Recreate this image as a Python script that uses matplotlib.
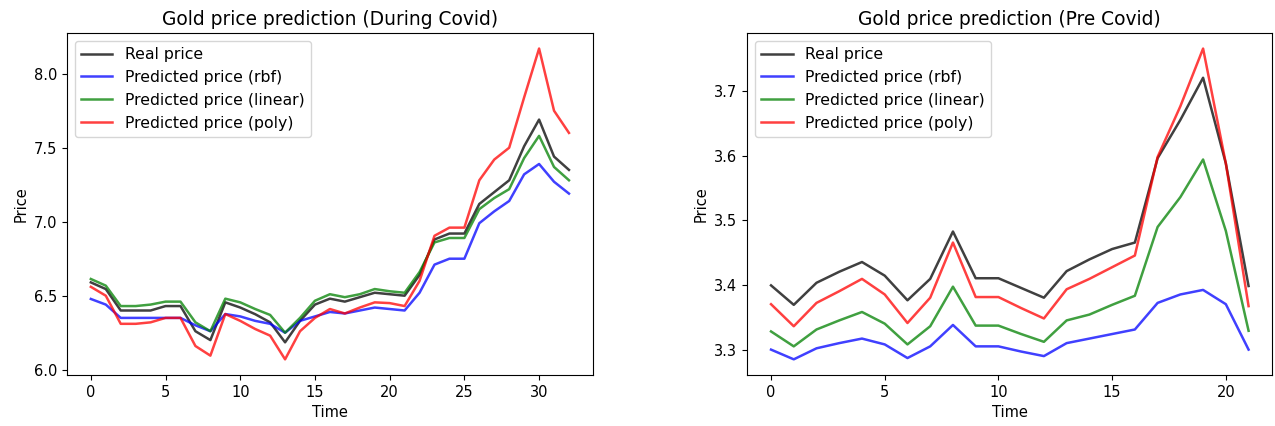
import numpy as np
import matplotlib
matplotlib.use('Agg')
import matplotlib.pyplot as plt

# During Covid (33 time steps)
covid_real = [6.59, 6.545, 6.40, 6.40, 6.40, 6.43, 6.43, 6.26, 6.20, 6.455, 6.42,
              6.375, 6.32, 6.185, 6.33, 6.44, 6.48, 6.46, 6.49, 6.52, 6.51, 6.50,
              6.64, 6.88, 6.92, 6.92, 7.12, 7.20, 7.28, 7.51, 7.69, 7.44, 7.35]
covid_rbf = [6.478, 6.44, 6.35, 6.35, 6.35, 6.35, 6.35, 6.30, 6.26, 6.376, 6.36,
             6.33, 6.31, 6.25, 6.33, 6.36, 6.39, 6.38, 6.40, 6.42, 6.41, 6.40,
             6.52, 6.71, 6.75, 6.75, 6.99, 7.07, 7.14, 7.32, 7.39, 7.27, 7.19]
covid_linear = [6.613, 6.568, 6.43, 6.43, 6.44, 6.46, 6.46, 6.32, 6.26, 6.48, 6.455,
                6.41, 6.37, 6.25, 6.35, 6.466, 6.51, 6.49, 6.51, 6.545, 6.53, 6.52,
                6.66, 6.86, 6.89, 6.89, 7.085, 7.16, 7.22, 7.43, 7.58, 7.37, 7.28]
covid_poly = [6.56, 6.50, 6.31, 6.31, 6.32, 6.35, 6.35, 6.16, 6.095, 6.376, 6.33,
              6.275, 6.23, 6.07, 6.26, 6.35, 6.41, 6.38, 6.42, 6.455, 6.45, 6.43,
              6.60, 6.905, 6.96, 6.96, 7.28, 7.42, 7.50, 7.84, 8.17, 7.75, 7.60]

# Pre Covid (22 time steps)
pre_real = [3.40, 3.37, 3.404, 3.421, 3.436, 3.415, 3.377, 3.41, 3.483, 3.411, 3.411,
            3.396, 3.381, 3.422, 3.44, 3.456, 3.466, 3.596, 3.655, 3.72, 3.588, 3.399]
pre_rbf = [3.301, 3.286, 3.303, 3.311, 3.318, 3.309, 3.288, 3.306, 3.339, 3.306, 3.306,
           3.298, 3.291, 3.311, 3.318, 3.325, 3.332, 3.373, 3.386, 3.393, 3.371, 3.301]
pre_linear = [3.329, 3.306, 3.332, 3.346, 3.359, 3.341, 3.309, 3.337, 3.398, 3.338, 3.338,
              3.325, 3.313, 3.346, 3.355, 3.37, 3.384, 3.49, 3.536, 3.594, 3.484, 3.33]
pre_poly = [3.371, 3.337, 3.373, 3.391, 3.41, 3.386, 3.342, 3.381, 3.466, 3.382, 3.382,
            3.365, 3.349, 3.394, 3.41, 3.428, 3.446, 3.598, 3.676, 3.765, 3.588, 3.368]

labels = ['Real price', 'Predicted price (rbf)', 'Predicted price (linear)', 'Predicted price (poly)']
colors = ['k', 'b', 'g', 'r']


def plot_panel(ax, series, title):
    t = np.arange(len(series[0]))
    for s, c, lab in zip(series, colors, labels):
        ax.plot(t, s, color=c, alpha=0.75, lw=1.8, label=lab)
    ax.set_title(title, fontsize=13.4)
    ax.set_xlabel('Time', fontsize=10.5)
    ax.set_ylabel('Price', fontsize=10.5)
    ax.tick_params(labelsize=10.5)
    ax.legend(loc='upper left', fontsize=11.3)


fig = plt.figure(figsize=(12.75, 4.26), dpi=100)
ax1 = fig.add_axes([0.0525, 0.12, 0.4125, 0.8025])
ax2 = fig.add_axes([0.586, 0.12, 0.412, 0.8025])

plot_panel(ax1, [covid_real, covid_rbf, covid_linear, covid_poly], 'Gold price prediction (During Covid)')
plot_panel(ax2, [pre_real, pre_rbf, pre_linear, pre_poly], 'Gold price prediction (Pre Covid)')

fig.savefig('out.png', dpi=100)
